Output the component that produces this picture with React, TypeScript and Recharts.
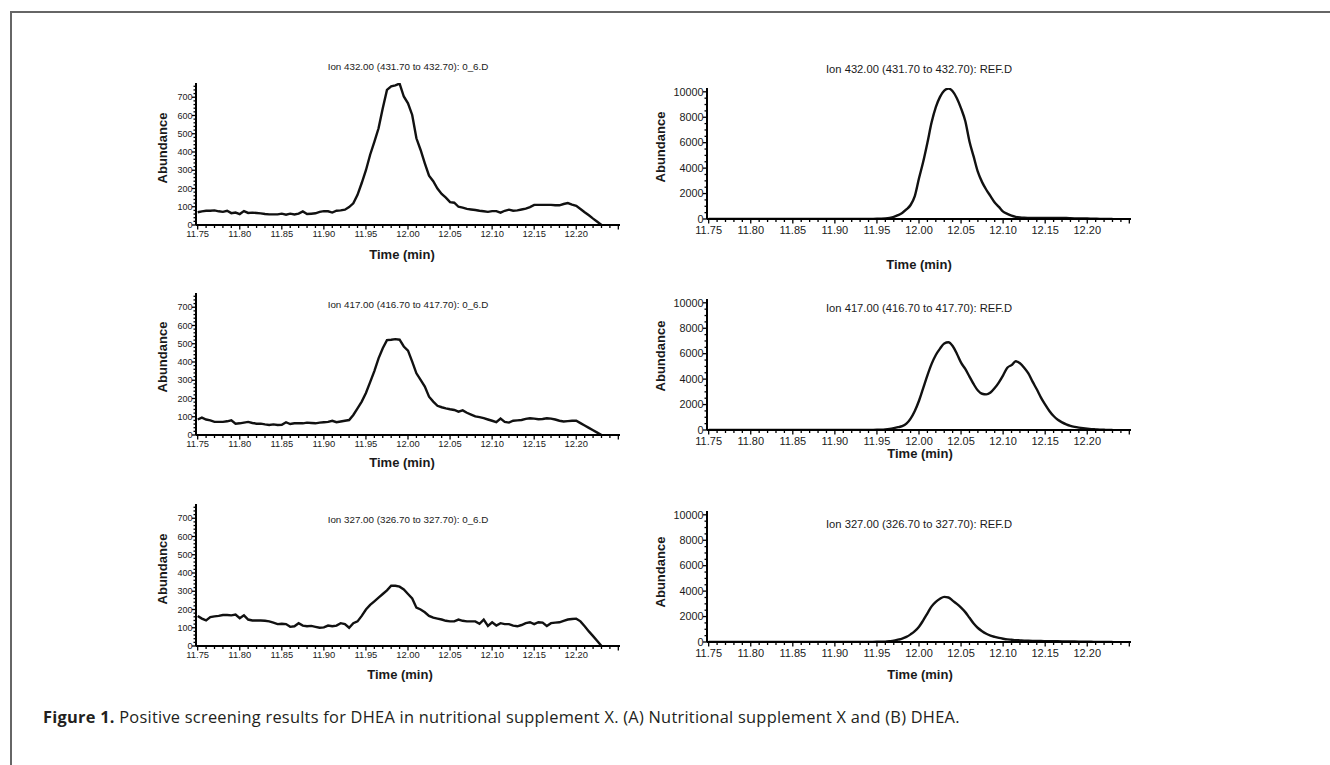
import React from "react";
import { LineChart, Line, XAxis, YAxis } from "recharts";

// retention time (min), one scan every 0.005 min
const times = [
  11.75, 11.755, 11.76, 11.765, 11.77, 11.775, 11.78, 11.785, 11.79, 11.795,
  11.8, 11.805, 11.81, 11.815, 11.82, 11.825, 11.83, 11.835, 11.84, 11.845,
  11.85, 11.855, 11.86, 11.865, 11.87, 11.875, 11.88, 11.885, 11.89, 11.895,
  11.9, 11.905, 11.91, 11.915, 11.92, 11.925, 11.93, 11.935, 11.94, 11.945,
  11.95, 11.955, 11.96, 11.965, 11.97, 11.975, 11.98, 11.985, 11.99, 11.995,
  12.0, 12.005, 12.01, 12.015, 12.02, 12.025, 12.03, 12.035, 12.04, 12.045,
  12.05, 12.055, 12.06, 12.065, 12.07, 12.075, 12.08, 12.085, 12.09, 12.095,
  12.1, 12.105, 12.11, 12.115, 12.12, 12.125, 12.13, 12.135, 12.14, 12.145,
  12.15, 12.155, 12.16, 12.165, 12.17, 12.175, 12.18, 12.185, 12.19, 12.195,
  12.2, 12.205, 12.21, 12.215, 12.22, 12.225, 12.23,
];

// (A) supplement X, file 0_6.D
const sample432 = [
  70, 75, 78, 78, 80, 75, 72, 78, 65, 68,
  60, 76, 66, 68, 66, 64, 60, 58, 58, 58,
  62, 56, 62, 58, 62, 74, 60, 62, 64, 72,
  76, 75, 68, 78, 80, 84, 98, 119, 165, 230,
  300, 385, 455, 530, 640, 740, 760, 765, 775, 704,
  667, 603, 475, 411, 338, 270, 240, 200, 170, 150,
  125, 122, 100, 95, 88, 85, 82, 78, 75, 72,
  76, 76, 68, 78, 84, 78, 80, 85, 90, 98,
  110, 110, 110, 110, 110, 108, 108, 115, 120, 112,
  105, 88, 70, 53, 35, 18, 0,
];
const sample417 = [
  85, 95, 85, 80, 72, 72, 72, 75, 80, 62,
  64, 68, 72, 66, 62, 62, 58, 55, 58, 55,
  56, 70, 60, 64, 64, 64, 68, 66, 64, 68,
  70, 72, 78, 70, 74, 78, 82, 110, 146, 183,
  230, 290, 350, 420, 475, 520, 522, 525, 522, 485,
  462, 402, 338, 302, 265, 210, 183, 160, 152, 146,
  141, 137, 128, 135, 122, 112, 102, 98, 92, 85,
  78, 70, 90, 72, 68, 78, 80, 82, 88, 92,
  90, 86, 88, 92, 90, 85, 78, 74, 76, 78,
  78, 65, 52, 39, 26, 13, 0,
];
const sample327 = [
  165, 150, 140, 158, 162, 165, 170, 170, 168, 172,
  152, 168, 145, 140, 140, 140, 138, 135, 128, 120,
  122, 120, 105, 108, 125, 112, 108, 110, 105, 100,
  102, 112, 108, 112, 125, 120, 100, 125, 135, 165,
  200, 225, 245, 265, 285, 305, 330, 330, 325, 310,
  285, 260, 210, 200, 185, 165, 155, 150, 145, 138,
  135, 135, 145, 138, 135, 135, 135, 122, 145, 110,
  130, 112, 125, 120, 120, 112, 108, 115, 125, 130,
  120, 130, 128, 110, 125, 128, 130, 138, 145, 148,
  150, 135, 108, 80, 54, 27, 0,
];

// (B) DHEA reference, file REF.D
const ref432 = [
  0, 0, 0, 0, 0, 0, 0, 0, 0, 0,
  0, 0, 0, 0, 0, 0, 0, 0, 0, 0,
  0, 0, 0, 0, 0, 0, 0, 0, 0, 0,
  0, 0, 0, 0, 0, 0, 0, 0, 5, 10,
  15, 25, 45, 85, 160, 300, 480, 750, 1100, 1800,
  3200, 4500, 6000, 7600, 8800, 9600, 10100, 10250, 10050, 9500,
  8700, 7700, 6100, 4900, 3700, 2900, 2300, 1800, 1300, 950,
  580, 400, 260, 170, 120, 95, 85, 80, 80, 85,
  90, 90, 90, 88, 85, 75, 60, 50, 45, 40,
  35, 28, 20, 12, 5, 0, 0,
];
const ref417 = [
  0, 0, 0, 0, 0, 0, 0, 0, 0, 0,
  0, 0, 0, 0, 0, 0, 0, 0, 0, 0,
  0, 0, 0, 0, 0, 0, 0, 0, 0, 0,
  0, 0, 0, 0, 0, 0, 0, 0, 5, 10,
  15, 25, 50, 90, 150, 220, 300, 500, 900, 1500,
  2300, 3300, 4300, 5200, 5900, 6400, 6800, 6900, 6600, 6000,
  5300, 4800, 4200, 3600, 3100, 2850, 2800, 2950, 3300, 3750,
  4300, 4900, 5100, 5400, 5250, 4900, 4450, 3800, 3200, 2550,
  2000, 1500, 1100, 800, 600, 450, 330, 250, 190, 140,
  100, 70, 50, 30, 15, 0, 0,
];
const ref327 = [
  0, 0, 0, 0, 0, 0, 0, 0, 0, 0,
  0, 0, 0, 0, 0, 0, 0, 0, 0, 0,
  0, 0, 0, 0, 0, 0, 0, 0, 0, 0,
  0, 0, 0, 0, 0, 0, 0, 0, 5, 10,
  15, 20, 30, 60, 100, 180, 270, 400, 600, 850,
  1200, 1700, 2250, 2800, 3150, 3400, 3550, 3500, 3250, 3000,
  2700, 2350, 1900, 1450, 1100, 850, 650, 500, 400, 320,
  260, 210, 180, 150, 130, 110, 100, 90, 80, 75,
  70, 65, 60, 55, 50, 45, 40, 35, 30, 25,
  20, 15, 10, 5, 0, 0, 0,
];

const xMajor = [11.75, 11.8, 11.85, 11.9, 11.95, 12.0, 12.05, 12.1, 12.15, 12.2, 12.25];
const xLabels = ["11.75", "11.80", "11.85", "11.90", "11.95", "12.00", "12.05", "12.10", "12.15", "12.20", ""];
const sampleYMajor = [0, 100, 200, 300, 400, 500, 600, 700];
const refYMajor = [0, 2000, 4000, 6000, 8000, 10000];

const xMinor = Array.from({ length: 51 }, (_, i) => Math.round((11.75 + i * 0.01) * 100) / 100);
const sampleYMinor = Array.from({ length: 39 }, (_, i) => i * 20);
const refYMinor = Array.from({ length: 21 }, (_, i) => i * 500);

const FONT = "'Liberation Sans', Arial, sans-serif";
const INK = "#1a1a1a";

function makeXTick(fontSize: number, labelDy: number) {
  return function XTick(props: any) {
    const { x, y, payload } = props;
    const idx = xMajor.findIndex((m) => Math.abs(m - payload.value) < 1e-6);
    const major = idx >= 0;
    return (
      <g>
        <line x1={x} y1={y} x2={x} y2={y + (major ? 4.5 : 3)} stroke="#000" strokeWidth={1.3} />
        {major && xLabels[idx] ? (
          <text x={x} y={y + labelDy} textAnchor="middle" fontSize={fontSize} fill={INK} fontFamily={FONT}>
            {xLabels[idx]}
          </text>
        ) : null}
      </g>
    );
  };
}

function makeYTick(majors: number[], fontSize: number) {
  return function YTick(props: any) {
    const { x, y, payload } = props;
    const major = majors.includes(payload.value);
    return (
      <g>
        <line x1={x} y1={y} x2={x - (major ? 4 : 2.5)} y2={y} stroke="#000" strokeWidth={1.3} />
        {major ? (
          <text x={x - 3.5} y={y} dy="0.35em" textAnchor="end" fontSize={fontSize} fill={INK} fontFamily={FONT}>
            {payload.value}
          </text>
        ) : null}
      </g>
    );
  };
}

interface Panel {
  title: string;
  series: number[];
  side: "sample" | "ref";
  plotTop: number;
  titleY: number;
  abundY: number;
  timeX: number;
  timeY: number;
}

const panels: Panel[] = [
  { title: "Ion 432.00 (431.70 to 432.70): 0_6.D", series: sample432, side: "sample", plotTop: 83, titleY: 67, abundY: 147.5, timeX: 402, timeY: 254 },
  { title: "Ion 417.00 (416.70 to 417.70): 0_6.D", series: sample417, side: "sample", plotTop: 293, titleY: 305, abundY: 357, timeX: 402, timeY: 462 },
  { title: "Ion 327.00 (326.70 to 327.70): 0_6.D", series: sample327, side: "sample", plotTop: 504, titleY: 520, abundY: 569, timeX: 400, timeY: 674 },
  { title: "Ion 432.00 (431.70 to 432.70): REF.D", series: ref432, side: "ref", plotTop: 88, titleY: 70, abundY: 147, timeX: 919, timeY: 264 },
  { title: "Ion 417.00 (416.70 to 417.70): REF.D", series: ref417, side: "ref", plotTop: 299, titleY: 309, abundY: 356, timeX: 920, timeY: 453 },
  { title: "Ion 327.00 (326.70 to 327.70): REF.D", series: ref327, side: "ref", plotTop: 511, titleY: 525, abundY: 572, timeX: 920, timeY: 674 },
];

const Y_AXIS_W = 50;
const PLOT_W = 424;

function Chromatogram({ p }: { p: Panel }) {
  const isSample = p.side === "sample";
  const plotLeft = isSample ? 196 : 707;
  const plotH = isSample ? 142 : 131;
  const yMax = isSample ? 778 : 10300;
  const rows = times.map((t, i) => ({ t, v: p.series[i] }));
  const titleSize = isSample ? 9.8 : 11.2;
  const centerX = plotLeft + PLOT_W / 2;

  const textBase: React.CSSProperties = {
    position: "absolute",
    fontFamily: FONT,
    color: INK,
    whiteSpace: "nowrap",
    lineHeight: 1,
    transform: "translate(-50%, -50%)",
  };

  return (
    <>
      <div style={{ position: "absolute", left: plotLeft - Y_AXIS_W, top: p.plotTop - 6 }}>
        <LineChart
          width={Y_AXIS_W + PLOT_W + 12}
          height={6 + plotH + 30}
          data={rows}
          margin={{ top: 6, right: 12, left: 0, bottom: 0 }}
        >
          <XAxis
            dataKey="t"
            type="number"
            domain={[11.748, 12.252]}
            allowDataOverflow
            ticks={xMinor}
            interval={0}
            tickLine={false}
            tickSize={0}
            tickMargin={0}
            height={30}
            axisLine={{ stroke: "#000", strokeWidth: 2 }}
            tick={makeXTick(isSample ? 9.4 : 11, isSample ? 12.4 : 15)}
          />
          <YAxis
            type="number"
            domain={[0, yMax]}
            allowDataOverflow
            ticks={isSample ? sampleYMinor : refYMinor}
            interval={0}
            tickLine={false}
            tickSize={0}
            tickMargin={0}
            width={Y_AXIS_W}
            axisLine={{ stroke: "#000", strokeWidth: 2 }}
            tick={makeYTick(isSample ? sampleYMajor : refYMajor, isSample ? 9 : 10.8)}
          />
          <Line
            dataKey="v"
            type={isSample ? "linear" : "monotone"}
            stroke="#111"
            strokeWidth={2.4}
            dot={false}
            isAnimationActive={false}
          />
        </LineChart>
      </div>
      <div style={{ ...textBase, left: centerX, top: p.titleY, fontSize: titleSize }}>{p.title}</div>
      <div
        style={{
          ...textBase,
          left: isSample ? 162 : 660,
          top: p.abundY,
          fontSize: 13,
          fontWeight: 700,
          transform: "translate(-50%, -50%) rotate(-90deg)",
        }}
      >
        Abundance
      </div>
      <div style={{ ...textBase, left: p.timeX, top: p.timeY, fontSize: 13, fontWeight: 700 }}>Time (min)</div>
    </>
  );
}

export default function App() {
  return (
    <div
      style={{
        position: "absolute",
        left: 0,
        top: 0,
        width: 1330,
        height: 765,
        background: "#fff",
        overflow: "hidden",
      }}
    >
      {/* frame */}
      <div
        style={{
          position: "absolute",
          left: 10,
          top: 11,
          width: 1330,
          height: 780,
          borderTop: "2px solid #666",
          borderLeft: "2px solid #666",
        }}
      />

      {panels.map((p) => (
        <Chromatogram key={p.title} p={p} />
      ))}

      <div
        style={{
          position: "absolute",
          left: 43,
          top: 717,
          transform: "translateY(-50%)",
          fontFamily: "'Open Sans', Lato, sans-serif",
          fontSize: 16.4,
          letterSpacing: 0.25,
          color: "#231f20",
          whiteSpace: "nowrap",
          lineHeight: 1,
        }}
      >
        <b>Figure 1.</b> Positive screening results for DHEA in nutritional supplement X. (A) Nutritional supplement X and (B) DHEA.
      </div>
    </div>
  );
}
